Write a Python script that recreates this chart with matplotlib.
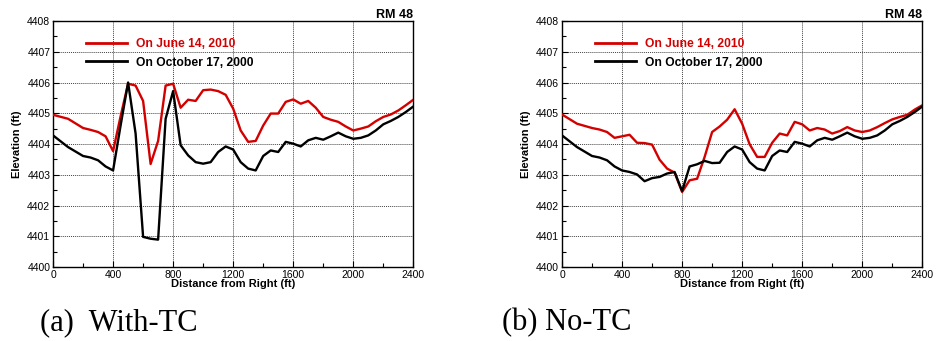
import numpy as np
import matplotlib
matplotlib.use("Agg")
import matplotlib.pyplot as plt
from matplotlib.ticker import MultipleLocator

# Cross-section station (ft from right bank)
station = [0, 100, 200, 250, 300, 350, 400, 450, 500, 550, 600, 650, 700, 750,
           800, 850, 900, 950, 1000, 1050, 1100, 1150, 1200, 1250, 1300, 1350,
           1400, 1450, 1500, 1550, 1600, 1650, 1700, 1750, 1800, 1850, 1900,
           1950, 2000, 2050, 2100, 2150, 2200, 2250, 2300, 2350, 2400]

# Bed elevation, October 17, 2000
oct2000_with_tc = [4404.28, 4403.90, 4403.61, 4403.56, 4403.47, 4403.27, 4403.14,
                   4404.60, 4406.00, 4404.34, 4400.98, 4400.92, 4400.89, 4404.82,
                   4405.72, 4403.96, 4403.63, 4403.41, 4403.36, 4403.41, 4403.74,
                   4403.92, 4403.82, 4403.41, 4403.20, 4403.14, 4403.61, 4403.79,
                   4403.74, 4404.07, 4404.01, 4403.92, 4404.12, 4404.20, 4404.14,
                   4404.25, 4404.37, 4404.25, 4404.17, 4404.20, 4404.28, 4404.44,
                   4404.64, 4404.75, 4404.88, 4405.04, 4405.22]

oct2000_no_tc = [4404.28, 4403.90, 4403.61, 4403.56, 4403.47, 4403.27, 4403.14,
                 4403.09, 4403.01, 4402.79, 4402.89, 4402.93, 4403.04, 4403.09,
                 4402.47, 4403.27, 4403.34, 4403.45, 4403.38, 4403.39, 4403.74,
                 4403.92, 4403.82, 4403.41, 4403.20, 4403.14, 4403.61, 4403.79,
                 4403.74, 4404.07, 4404.01, 4403.92, 4404.12, 4404.20, 4404.14,
                 4404.25, 4404.37, 4404.25, 4404.17, 4404.20, 4404.28, 4404.44,
                 4404.64, 4404.75, 4404.88, 4405.04, 4405.22]

# Simulated bed elevation, June 14, 2010
jun2010_with_tc = [4404.95, 4404.82, 4404.52, 4404.46, 4404.39, 4404.25, 4403.77,
                   4404.90, 4405.96, 4405.90, 4405.40, 4403.35, 4404.10, 4405.90,
                   4405.96, 4405.18, 4405.44, 4405.40, 4405.75, 4405.77, 4405.72,
                   4405.60, 4405.15, 4404.44, 4404.07, 4404.10, 4404.60, 4404.99,
                   4404.99, 4405.37, 4405.45, 4405.31, 4405.40, 4405.18, 4404.88,
                   4404.79, 4404.72, 4404.57, 4404.44, 4404.50, 4404.57, 4404.74,
                   4404.88, 4404.96, 4405.09, 4405.26, 4405.44]

jun2010_no_tc = [4404.96, 4404.66, 4404.52, 4404.47, 4404.39, 4404.20, 4404.25,
                 4404.30, 4404.04, 4404.03, 4403.98, 4403.49, 4403.20, 4403.07,
                 4402.44, 4402.82, 4402.87, 4403.58, 4404.39, 4404.57, 4404.79,
                 4405.13, 4404.66, 4403.99, 4403.58, 4403.58, 4404.04, 4404.34,
                 4404.28, 4404.72, 4404.64, 4404.44, 4404.52, 4404.47, 4404.34,
                 4404.42, 4404.55, 4404.44, 4404.39, 4404.44, 4404.55, 4404.68,
                 4404.80, 4404.88, 4404.95, 4405.12, 4405.26]

series_labels = ["On June 14, 2010", "On October 17, 2000"]
panel_captions = ["(a)  With-TC", "(b) No-TC"]
section_name = "RM 48"

RED = "#d40000"
ARIAL = ["Liberation Sans", "DejaVu Sans"]

fig = plt.figure(figsize=(9.37, 3.41), dpi=100)
fig.patch.set_facecolor("white")

panels = [
    (0.0566, jun2010_with_tc, oct2000_with_tc, panel_captions[0], 0.043),
    (0.5998, jun2010_no_tc, oct2000_no_tc, panel_captions[1], 0.5357),
]

for left, red_vals, black_vals, caption, cap_x in panels:
    ax = fig.add_axes([left, 0.217, 0.3845, 0.7214])
    ax.plot(station, red_vals, color=RED, lw=1.7, label=series_labels[0],
            solid_joinstyle="round", zorder=3)
    ax.plot(station, black_vals, color="black", lw=1.7, label=series_labels[1],
            solid_joinstyle="round", zorder=3)

    ax.set_xlim(0, 2400)
    ax.set_ylim(4400, 4408)
    ax.xaxis.set_major_locator(MultipleLocator(400))
    ax.xaxis.set_minor_locator(MultipleLocator(200))
    ax.yaxis.set_major_locator(MultipleLocator(1))
    ax.yaxis.set_minor_locator(MultipleLocator(0.5))
    ax.tick_params(which="both", direction="in", top=False, right=False,
                   labelsize=7.5, pad=2)
    ax.tick_params(which="major", length=4, width=0.8)
    ax.tick_params(which="minor", length=3, width=0.8)
    for lab in ax.get_xticklabels() + ax.get_yticklabels():
        lab.set_family(ARIAL)
    ax.grid(True, which="major", linestyle=(0, (1, 1)), color="#444444", lw=0.7)
    for sp in ax.spines.values():
        sp.set_linewidth(1.0)
        sp.set_color("black")

    ax.set_xlabel("Distance from Right (ft)", family=ARIAL, fontsize=8,
                  fontweight="bold", labelpad=-0.5)
    ax.set_ylabel("Elevation (ft)", family=ARIAL, fontsize=8,
                  fontweight="bold", labelpad=4)
    ax.text(1.0, 1.012, section_name, transform=ax.transAxes, ha="right",
            va="baseline", family=ARIAL, fontsize=9, fontweight="bold")

    leg = ax.legend(loc="upper left", bbox_to_anchor=(0.06, 0.975), frameon=False,
                    prop={"family": ARIAL, "size": 8.7, "weight": "bold"},
                    handlelength=3.4, handletextpad=0.75, labelspacing=0.55,
                    labelcolor=[RED, "black"])
    for h in leg.legend_handles:
        h.set_linewidth(2.0)

    fig.text(cap_x, 0.055, caption, family=["Liberation Serif", "DejaVu Serif"],
             fontsize=22, ha="left", va="center")

fig.savefig("out.png", dpi=100, facecolor="white")
